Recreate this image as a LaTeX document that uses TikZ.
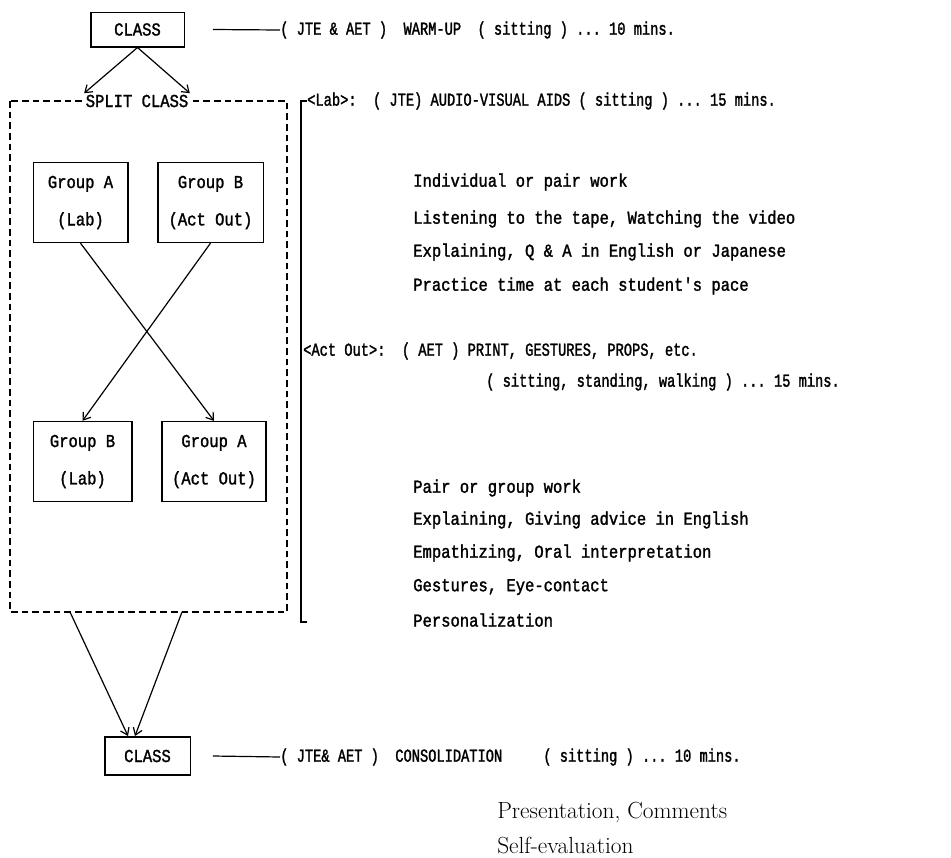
\documentclass[tikz,border=0pt]{standalone}
\usepackage{fontspec}
\newfontfamily\dotmono[FakeStretch=0.85,FakeBold=1.5]{Liberation Mono}
\newfontfamily\dothead[FakeStretch=0.75,FakeBold=1.5]{Liberation Mono}
\usetikzlibrary{arrows.meta, positioning}

\begin{document}
\begin{tikzpicture}[
    x=0.75pt, y=-0.75pt,
    every node/.style={font=\fontsize{13.7}{28}\selectfont\dotmono, inner sep=1pt},
    box/.style={rectangle, draw, line width=1pt, align=center, minimum height=26pt},
    group/.style={box, minimum height=60pt},
    line/.style={anchor=west, inner sep=0pt},
    head/.style={line, font=\fontsize{13.7}{28}\selectfont\dothead},
    note/.style={line, font=\fontsize{17.5}{20}\selectfont\rmfamily},
    arrow/.style={-{Straight Barb[length=5pt, width=7pt]}, line width=0.9pt},
    link/.style={line width=0.9pt},
    splitline/.style={dash pattern=on 5pt off 3pt, line width=0.9pt}
]
\useasboundingbox (0,0) rectangle (951,858);

\node[box, minimum width=70pt] (class1) at (137.5,29.5) {CLASS};
\node[head] (warm) at (280,30) {( JTE \& AET )~~WARM-UP~~( sitting )~...~10~mins.};
\draw[link] ([xshift=21pt]class1.east) -- (warm.west);

\draw[splitline] (10,101) rectangle (287,612);
\node[fill=white] (split) at (137,101) {SPLIT CLASS};
\draw[arrow] (class1.south) -- (split.north west);
\draw[arrow] (class1.south) -- (split.north east);

\node[group, minimum width=71pt] (gA1) at (80.5,202.5) {Group A\\(Lab)};
\node[group, minimum width=79pt] (gB1) at (210.5,202.5) {Group B\\(Act Out)};
\node[group, minimum width=74pt] (gB2) at (82.5,461.5) {Group B\\(Lab)};
\node[group, minimum width=78pt] (gA2) at (214,461.5) {Group A\\(Act Out)};
\draw[arrow] (gA1.south) -- (gA2.north);
\draw[arrow] (gB1.south) -- (gB2.north);

\coordinate (out1) at (70,612);
\coordinate (out2) at (182,612);
\node[box, minimum width=64pt, minimum height=28.5pt] (class2) at (147.5,756) {CLASS};
\coordinate (in1) at (128,736);
\coordinate (in2) at (135,736);
\draw[arrow] (out1) -- (in1);
\draw[arrow] (out2) -- (in2);
\node[head] (consol) at (280,757) {( JTE\& AET )~~CONSOLIDATION~~~~~( sitting )~...~10~mins.};
\draw[link] ([xshift=16.5pt]class2.east) -- (consol.west);

\node[head] (lab) at (307,101) {<Lab>:~~( JTE) AUDIO-VISUAL AIDS~( sitting )~...~15~mins.};
\node[line] (lab1) at (413,182) {Individual or pair work};
\node[line] (lab2) at (413,219) {Listening to the tape, Watching the video};
\node[line] (lab3) at (413,252) {Explaining, Q \& A in English or Japanese};
\node[line] (lab4) at (413,286) {Practice time at each student's pace};

\node[head] (act) at (303,351) {<Act Out>:~~( AET ) PRINT, GESTURES, PROPS, etc.};
\node[head] (act0) at (486,382) {( sitting, standing, walking )~...~15~mins.};
\node[line] (act1) at (413,488) {Pair or group work};
\node[line] (act2) at (413,520) {Explaining, Giving advice in English};
\node[line] (act3) at (413,553) {Empathizing, Oral interpretation};
\node[line] (act4) at (413,587) {Gestures, Eye-contact};
\node[line] (act5) at (413,620) {Personalization};

\coordinate (brb) at (307,622);
\draw[link] (lab.west) -- ++(-6,0) |- (brb);

\node[note] (pres) at (497,813) {Presentation, Comments};
\node[note] (self) at (497,845) {Self-evaluation};
\end{tikzpicture}
\end{document}
